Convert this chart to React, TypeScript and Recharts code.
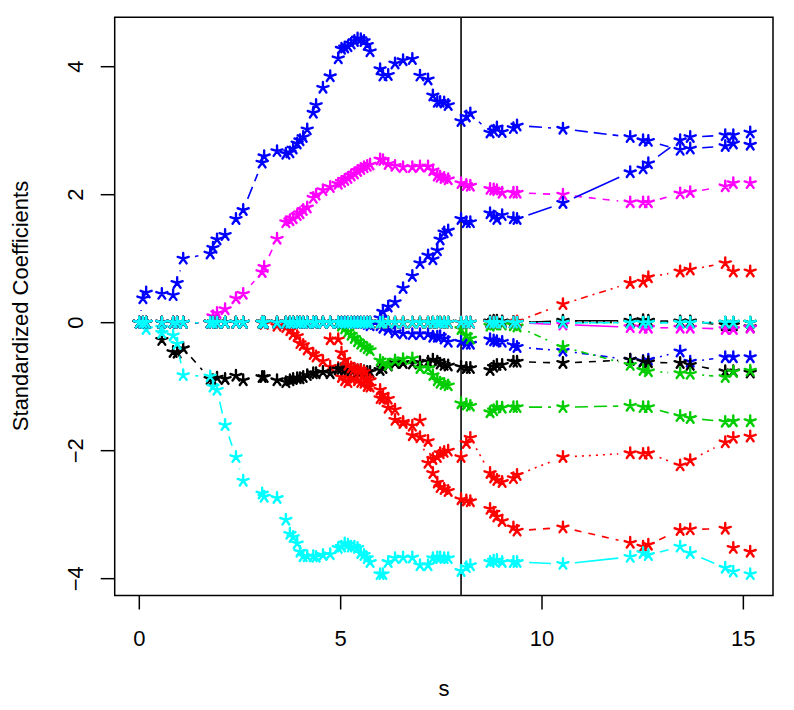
import React from 'react';
import { LineChart, Line, XAxis, YAxis, ReferenceLine, ReferenceArea } from 'recharts';

// s grid (shared by all coefficient paths)
const S = [
  0, 0.09, 0.17, 0.56, 0.84, 0.94, 1.09, 1.76, 1.83, 1.93,
  2.13, 2.40, 2.58, 3.05, 3.10, 3.42, 3.64, 3.74, 3.82, 3.92,
  3.99, 4.07, 4.17, 4.32, 4.39, 4.56, 4.74, 4.94, 5.02, 5.10,
  5.18, 5.26, 5.34, 5.42, 5.50, 5.58, 5.66, 5.73, 5.98, 6.05,
  6.18, 6.35, 6.55, 6.78, 6.97, 7.17, 7.29, 7.40, 7.47, 7.57,
  7.67, 7.99, 8.12, 8.22, 8.71, 8.80, 8.88, 9.01, 9.29, 9.38,
  10.52, 12.19, 12.51, 12.64, 13.43, 13.68, 14.55, 14.75, 15.17,
];

const J1 = [
  0, 0, 0, 0, 0, 0, 0, 0, 0, 0,
  0, 0, 0, 0, 0, 0, 0, 0, 0, 0,
  0, 0, 0, 0, 0, 0, 0, 0, 0, 0,
  0, 0, 0, 0, 0, 0, 0, 0, 0, 0,
  0, 0, 0, 0, 0, 0, 0, 0, 0, 0,
  0, 0, 0, 0, 0.02, 0.03, 0.03, 0.02, 0, 0,
  0.03, 0.03, 0.04, 0.03, 0.02, 0.02, -0.04, -0.04, -0.07,
];
const J2 = [
  0, 0, 0, 0, 0, 0, 0, 0, 0, 0,
  0, 0, 0, 0, -0.02, -0.05, -0.07, -0.12, -0.18, -0.21,
  -0.32, -0.35, -0.42, -0.49, -0.53, -0.6, -0.69, -0.71, -0.85, -0.9,
  -0.93, -0.87, -0.86, -0.9, -0.93, -0.94, -0.99, -1.0, -1.18, -1.19,
  -1.33, -1.52, -1.57, -1.61, -1.53, -1.85, -2.35, -2.5, -2.57, -2.6,
  -2.63, -2.76, -2.78, -2.79, -2.91, -2.97, -3.03, -3.1, -3.2, -3.25,
  -3.2, -3.44, -3.5, -3.47, -3.24, -3.23, -3.22, -3.52, -3.58,
];
const J3 = [
  0, 0, 0, 0, 0, 0, 0, 0, 0, 0,
  0, 0, 0, 0, 0, 0, 0, 0, 0, 0,
  0, 0, 0, 0, 0, 0, 0, 0, 0, 0,
  0, 0, 0, 0, 0, 0, 0, 0, 0, 0,
  0, 0, 0, 0, 0, 0, 0, 0, 0, 0,
  0, 0, 0, 0, 0, 0, 0, 0, 0, 0,
  0, 0, 0, 0, 0, 0, 0, 0, 0,
];
const J4 = [
  0, 0, 0, 0, 0, 0, 0, 0, 0, 0,
  0, 0, 0, 0, 0, 0, 0, 0, 0, 0,
  0, 0, 0, 0, 0, 0, 0, 0, 0, 0,
  0, 0, 0, 0, 0, 0, -0.02, -0.04, -0.04, -0.08,
  -0.11, -0.15, -0.17, -0.18, -0.18, -0.18, -0.22, -0.22, -0.21, -0.25,
  -0.3, -0.3, -0.33, -0.33, -0.26, -0.28, -0.29, -0.3, -0.35, -0.38,
  -0.44, -0.58, -0.6, -0.58, -0.45, -0.61, -0.54, -0.54, -0.54,
];
const J5 = [
  0, 0, 0, -0.08, 0, 0, 0, 0, 0, 0,
  0, 0, 0, 0, 0, 0, 0, 0, 0, 0,
  0, 0, 0, 0, 0, 0, 0, 0, 0, 0,
  0, 0, 0, 0, 0, 0, 0, 0, 0, 0,
  0, 0, 0, 0, 0, 0, 0, 0, 0, 0,
  0, 0, 0, 0, 0, 0, 0, 0, 0, 0,
  0, 0, 0, 0, 0, 0, 0, 0, 0,
];
const J6 = [
  0, 0, 0, 0, 0, 0, 0, 0, 0, 0,
  0, 0, 0, 0, 0, 0, 0, 0, 0, 0,
  0, 0, 0, 0, 0, 0, 0, 0, 0, 0,
  0, 0, 0, 0, 0, 0, 0, 0, 0, 0,
  0, 0, 0, 0, 0, 0, 0, 0, 0, 0,
  0, 0, 0, 0, 0, 0, 0, 0, 0, 0,
  -0.03, -0.07, -0.08, -0.08, -0.08, -0.08, -0.1, -0.1, -0.08,
];
const J7 = [
  0, 0, 0, -0.27, -0.46, -0.47, -0.4, -0.88, -0.9, -0.86,
  -0.88, -0.83, -0.9, -0.85, -0.85, -0.9, -0.93, -0.9, -0.88, -0.87,
  -0.87, -0.85, -0.82, -0.79, -0.79, -0.77, -0.79, -0.73, -0.72, -0.73,
  -0.72, -0.74, -0.73, -0.75, -0.74, -0.76, -0.77, -0.77, -0.74, -0.71,
  -0.67, -0.63, -0.63, -0.64, -0.62, -0.61, -0.58, -0.61, -0.64, -0.66,
  -0.67, -0.69, -0.71, -0.71, -0.74, -0.69, -0.66, -0.66, -0.61, -0.61,
  -0.63, -0.58, -0.61, -0.62, -0.63, -0.66, -0.76, -0.76, -0.78,
];
const J8 = [
  0, 0, 0, 0, 0, 0, 0, 0, 0, 0,
  0, 0, 0, 0, 0, 0, 0, 0, 0, 0,
  0, 0, 0, 0, 0, 0, -0.26, -0.26, -0.47, -0.58,
  -0.66, -0.7, -0.72, -0.74, -0.74, -0.77, -0.87, -0.9, -1.05, -1.13,
  -1.19, -1.36, -1.55, -1.76, -1.79, -2.19, -2.13, -2.1, -2.04, -2.02,
  -2.0, -2.1, -1.88, -1.8, -2.35, -2.42, -2.46, -2.49, -2.43, -2.38,
  -2.1, -2.04, -2.05, -2.04, -2.23, -2.15, -1.87, -1.8, -1.78,
];
const J9 = [
  0, 0, 0, 0, 0, 0, 0, 0, 0, 0,
  0, 0, 0, 0, 0, 0, 0, 0, 0, 0,
  0, 0, 0, 0, 0, 0, 0, 0, 0, 0,
  0, 0, 0, 0, 0, 0, 0, 0, 0, 0,
  0, 0, 0, 0, 0, 0, 0, 0, 0, 0,
  0, -0.1, -0.2, -0.25, -0.05, -0.03, -0.03, -0.03, -0.04, -0.06,
  -0.38, -0.66, -0.74, -0.76, -0.79, -0.8, -0.85, -0.77, -0.75,
];
const J10 = [
  0, 0.38, 0.47, 0.45, 0.43, 0.62, 1.0, 1.08, 1.17, 1.3,
  1.37, 1.62, 1.76, 2.5, 2.6, 2.68, 2.64, 2.66, 2.72, 2.8,
  2.85, 2.9, 3.02, 3.28, 3.4, 3.67, 3.85, 4.13, 4.28, 4.3,
  4.32, 4.36, 4.4, 4.44, 4.43, 4.4, 4.34, 4.24, 3.96, 3.86,
  3.87, 4.05, 4.1, 4.12, 3.86, 3.8, 3.55, 3.45, 3.45, 3.44,
  3.4, 3.15, 3.22, 3.27, 2.97, 3.0, 3.05, 2.98, 3.04, 3.08,
  3.03, 2.9, 2.85, 2.84, 2.7, 2.72, 2.76, 2.8, 2.78,
];
const J11 = [
  0, 0, -0.1, -0.16, -0.2, -0.33, -0.82, -0.84, -1.0, -1.05,
  -1.6, -2.1, -2.47, -2.67, -2.72, -2.74, -3.08, -3.3, -3.35, -3.45,
  -3.58, -3.65, -3.65, -3.65, -3.66, -3.63, -3.62, -3.52, -3.5, -3.45,
  -3.47, -3.5, -3.5, -3.52, -3.6, -3.63, -3.68, -3.74, -3.93, -3.93,
  -3.74, -3.68, -3.67, -3.67, -3.79, -3.79, -3.68, -3.67, -3.67, -3.68,
  -3.68, -3.88, -3.82, -3.79, -3.74, -3.72, -3.71, -3.74, -3.74, -3.74,
  -3.77, -3.66, -3.6, -3.63, -3.5, -3.6, -3.83, -3.89, -3.93,
];
const J12 = [
  0, 0, 0, 0, 0, 0, 0, 0, 0.1, 0.15,
  0.21, 0.38, 0.45, 0.79, 0.87, 1.31, 1.57, 1.6, 1.63, 1.68,
  1.71, 1.76, 1.8, 1.95, 2.0, 2.07, 2.12, 2.17, 2.2, 2.23,
  2.26, 2.3, 2.33, 2.37, 2.4, 2.43, 2.45, 2.47, 2.55, 2.54,
  2.48, 2.45, 2.43, 2.43, 2.44, 2.44, 2.38, 2.3, 2.28, 2.26,
  2.24, 2.18, 2.15, 2.14, 2.09, 2.08, 2.07, 2.03, 2.03, 2.03,
  2.0, 1.88, 1.88, 1.88, 2.02, 2.04, 2.13, 2.18, 2.18,
];
const J13 = [
  0, 0, 0, 0, 0, 0, 0, 0, 0, 0,
  0, 0, 0, 0, 0, 0, 0, 0, 0, 0,
  0, 0, 0, 0, 0, 0, 0, 0, 0, 0,
  0, 0, 0, 0, 0, 0, 0, 0, 0, 0,
  0, 0, 0, 0, 0, 0, 0, 0, 0, 0,
  0, 0, 0, 0, 0.01, 0.01, 0.01, 0.01, 0.01, 0.01,
  0.01, 0.01, 0.01, 0.01, 0.01, 0.01, 0, 0, 0,
];
const J14 = [
  0, 0, 0, 0, 0, 0, 0, 0, 0, 0,
  0, 0, 0, 0, 0, 0, 0, 0, 0, 0,
  0, 0, 0, 0, 0, 0, 0, 0, 0, 0,
  0, 0, 0, 0, 0, 0, 0, 0, 0, 0,
  0, 0, 0, 0, 0, 0, 0, 0, 0, 0,
  0, 0, 0, 0, 0, 0, 0, 0, 0, 0.02,
  0.29, 0.62, 0.64, 0.71, 0.8, 0.83, 0.93, 0.8, 0.8,
];
const J15 = [
  0, 0, 0, 0, 0, 0, 0, 0, 0, 0,
  0, 0, 0, 0, 0, 0, 0, 0, 0, 0,
  0, 0, 0, 0, 0, 0, 0, 0, -0.05, -0.09,
  -0.14, -0.19, -0.24, -0.29, -0.33, -0.37, -0.4, -0.43, -0.59, -0.63,
  -0.66, -0.59, -0.57, -0.56, -0.71, -0.71, -0.82, -0.9, -0.94, -0.96,
  -0.98, -1.26, -1.28, -1.3, -1.4, -1.37, -1.32, -1.33, -1.32, -1.32,
  -1.32, -1.3, -1.32, -1.32, -1.46, -1.49, -1.55, -1.54, -1.54,
];
const J16 = [
  0, 0, 0, 0, 0, 0, 0, 0, 0, 0,
  0, 0, 0, 0, 0, 0, 0, 0, 0, 0,
  0, 0, 0, 0, 0, 0, 0, 0, 0, 0,
  0, 0, 0, 0, 0, 0, 0, 0, 0.07, 0.17,
  0.25, 0.32, 0.54, 0.73, 0.93, 1.05, 0.99, 1.13, 1.3, 1.41,
  1.44, 1.62, 1.57, 1.57, 1.71, 1.66, 1.62, 1.68, 1.63, 1.62,
  1.87, 2.35, 2.41, 2.49, 2.85, 2.9, 2.93, 2.93, 2.97,
];
const J17 = [
  0, 0, 0, 0, 0, 0, 0, 0, 0, 0,
  0, 0, 0, 0, 0, 0, 0, 0, 0, 0,
  0, 0, 0, 0, 0, 0, 0, 0, 0, 0,
  0, 0, 0, 0, 0, 0, 0, 0, 0, 0,
  0, 0, 0, 0, 0, 0, 0, 0, 0, 0,
  0, 0, 0, 0, 0, 0, 0, 0, 0, 0,
  0, 0, 0, 0, 0, 0, 0, 0, 0,
];

const PATHS = [J1, J2, J3, J4, J5, J6, J7, J8, J9, J10, J11, J12, J13, J14, J15, J16, J17];
const X_TICKS = [0, 5, 10, 15];
const Y_TICKS = [-4, -2, 0, 2, 4];
const CV_S = 7.99;

// styles (R default palette and line types, cycled)
const PALETTE = ['#000000', '#FF0000', '#00CD00', '#0000FF', '#00FFFF', '#FF00FF'];
const LTY = [undefined, '7 7', '2 5', '2 5 7 5', '13 6'];

const FONT = '"Liberation Sans", Arial, Helvetica, sans-serif';
const GAP = 12;
const STAR_R = 5.8;

const data = S.map((s, i) => {
  const row: Record<string, number> = { s };
  PATHS.forEach((p, j) => {
    row['c' + (j + 1)] = p[i];
  });
  return row;
});

function starPath(cx: number, cy: number) {
  let d = '';
  for (let k = 0; k < 5; k++) {
    const a = ((-90 + 72 * k) * Math.PI) / 180;
    d += `M${cx},${cy}L${cx + STAR_R * Math.cos(a)},${cy + STAR_R * Math.sin(a)}`;
  }
  return d;
}

function makeDot(color: string, dash: string | undefined) {
  let prev: { x: number; y: number } | null = null;
  return (props: any) => {
    const { cx, cy, index, points } = props;
    let seg: React.ReactNode = null;
    let other: { x: number; y: number } | null = null;
    let fromX = cx, fromY = cy;
    if (points && points.length) {
      const nx = points[index + 1];
      if (nx) other = { x: nx.x, y: nx.y };
    } else {
      if (index === 0) prev = null;
      if (prev) {
        other = { x: cx, y: cy };
        fromX = prev.x;
        fromY = prev.y;
      }
      prev = { x: cx, y: cy };
    }
    if (other && cx != null && cy != null) {
      const dx = other.x - fromX;
      const dy = other.y - fromY;
      const len = Math.hypot(dx, dy);
      if (len > 2 * GAP) {
        const ux = dx / len;
        const uy = dy / len;
        seg = (
          <line
            x1={fromX + ux * GAP}
            y1={fromY + uy * GAP}
            x2={other.x - ux * GAP}
            y2={other.y - uy * GAP}
            stroke={color}
            strokeWidth={1.6}
            strokeDasharray={dash}
          />
        );
      }
    }
    return (
      <g key={`d-${index}`}>
        {seg}
        <path d={starPath(cx, cy)} stroke={color} strokeWidth={2.4} strokeLinecap="round" fill="none" />
      </g>
    );
  };
}

const XTick = (props: any) => {
  const { x, y, payload } = props;
  return (
    <text x={x} y={y + 16} textAnchor="middle" fontFamily={FONT} fontSize={22} fill="#000">
      {String(payload.value)}
    </text>
  );
};

const YTick = (props: any) => {
  const { x, y, payload } = props;
  const v = Number(payload.value);
  const label = v < 0 ? '\u2212' + Math.abs(v) : String(v);
  return (
    <text
      x={x}
      y={y}
      transform={`rotate(-90, ${x}, ${y})`}
      textAnchor="middle"
      fontFamily={FONT}
      fontSize={22}
      fill="#000"
    >
      {label}
    </text>
  );
};

export default function App() {
  const X_DOMAIN: [number, number] = [-0.611, 15.736];
  const Y_DOMAIN: [number, number] = [-4.263, 4.772];
  return (
    <div style={{ position: 'absolute', left: 0, top: 0, width: 794, height: 710, background: '#fff' }}>
      <LineChart width={794} height={710} data={data} margin={{ top: 17.3, right: 21, bottom: 74.5, left: 54.7 }}>
        <XAxis
          dataKey="s"
          type="number"
          domain={X_DOMAIN}
          ticks={X_TICKS}
          allowDataOverflow
          axisLine={false}
          tickSize={14}
          tickMargin={20}
          tickLine={{ stroke: '#000', strokeWidth: 1.5 }}
          tick={<XTick />}
          height={40}
        />
        <YAxis
          type="number"
          domain={Y_DOMAIN}
          ticks={Y_TICKS}
          allowDataOverflow
          axisLine={false}
          tickSize={14}
          tickMargin={18}
          tickLine={{ stroke: '#000', strokeWidth: 1.5 }}
          tick={<YTick />}
          width={60}
        />
        <ReferenceArea
          x1={X_DOMAIN[0]}
          x2={X_DOMAIN[1]}
          y1={Y_DOMAIN[0]}
          y2={Y_DOMAIN[1]}
          fill="none"
          fillOpacity={0}
          stroke="#000"
          strokeWidth={1.5}
          ifOverflow="extendDomain"
        />
        <ReferenceLine x={CV_S} stroke="#222" strokeWidth={1.8} />
        {PATHS.map((_, j) => {
          const color = PALETTE[j % 6];
          const dash = LTY[j % 5];
          return (
            <Line
              key={'c' + (j + 1)}
              dataKey={'c' + (j + 1)}
              type="linear"
              stroke="none"
              dot={makeDot(color, dash)}
              activeDot={false}
              isAnimationActive={false}
            />
          );
        })}
      </LineChart>
      <svg width={794} height={710} style={{ position: 'absolute', left: 0, top: 0, pointerEvents: 'none' }}>
        <text x={444} y={696} textAnchor="middle" fontFamily={FONT} fontSize={22} fill="#000">
          s
        </text>
        <text
          x={28}
          y={306}
          transform="rotate(-90, 28, 306)"
          textAnchor="middle"
          fontFamily={FONT}
          fontSize={22}
          fill="#000"
        >
          Standardized Coefficients
        </text>
      </svg>
    </div>
  );
}
